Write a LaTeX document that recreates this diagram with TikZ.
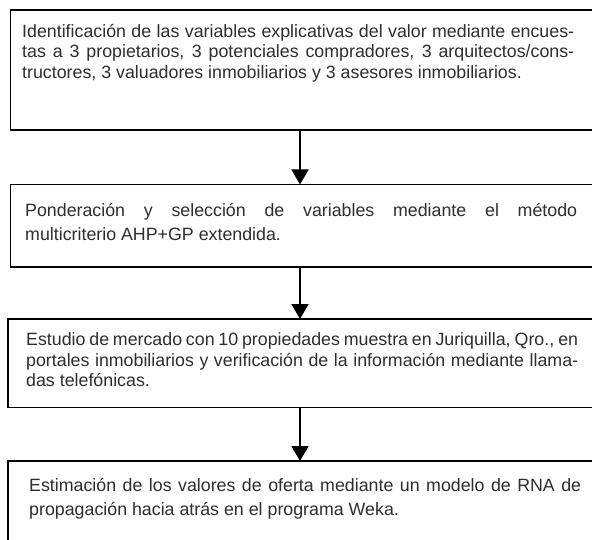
\documentclass[tikz,border=0pt]{standalone}
\usepackage{fontspec}
\setmainfont{Liberation Sans}
\usetikzlibrary{arrows.meta}
\tolerance=10000
\hyphenpenalty=10000
\hbadness=10000
\begin{document}
\begin{tikzpicture}[x=1pt,y=-1pt,
  box/.style={draw=black, line width=1.6pt, rectangle, inner sep=0pt, outer sep=0pt, anchor=north west},
  txt/.style={inner sep=0pt, anchor=base west, text width=552pt, align=justify, text=black!82},
  tight/.style={font=\fontsize{17.8}{20.5}\selectfont},
  loose/.style={font=\fontsize{17.8}{24}\selectfont},
  conn/.style={line width=1.5pt, -{Triangle[length=15pt,width=17pt]}}]
\useasboundingbox (0,0) rectangle (592,540);
\clip (0,0) rectangle (592,540);
\fill[white] (0,0) rectangle (592,540);
% boxes
\node[box, minimum width=589.5pt, minimum height=120pt] (b1) at (10.5,10) {};
\node[box, minimum width=589.5pt, minimum height=82.5pt] (b2) at (10.5,184.5) {};
\node[box, minimum width=592pt, minimum height=88.5pt] (b3) at (8,319) {};
\node[box, minimum width=584.5pt, minimum height=120pt] (b4) at (8,461) {};
% texts
\node[txt, tight] (t1) at (22,37.5) {Identificación de las variables explicativas del valor mediante encues-\linebreak tas a 3 propietarios, 3 potenciales compradores, 3 arquitectos/cons-\linebreak tructores, 3 valuadores inmobiliarios y 3 asesores inmobiliarios.};
\node[txt, loose] (t2) at (25,216.5) {Ponderación y selección de variables mediante el método\linebreak multicriterio AHP+GP extendida.};
\node[txt, tight] (t3) at (26,345.5) {Estudio de mercado con 10 propiedades muestra en Juriquilla, Qro., en\linebreak portales inmobiliarios y verificación de la información mediante llama-\linebreak das telefónicas.};
\node[txt, loose] (t4) at (29,491.5) {Estimación de los valores de oferta mediante un modelo de RNA de\linebreak propagación hacia atrás en el programa Weka.};
% connectors
\coordinate (ax) at (300,0);
\draw[conn] (b1.south -| ax) -- (b2.north -| ax);
\draw[conn] (b2.south -| ax) -- (b3.north -| ax);
\draw[conn] (b3.south -| ax) -- (b4.north -| ax);
\end{tikzpicture}
\end{document}
